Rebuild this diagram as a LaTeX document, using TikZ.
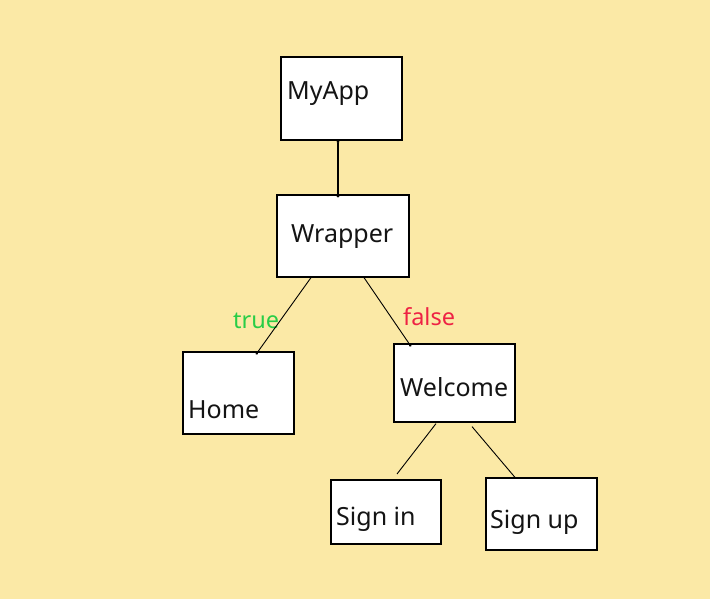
\documentclass[tikz,border=0pt]{standalone}
\usepackage{fontspec}
\setmainfont{Noto Sans}
\usetikzlibrary{calc,arrows.meta}
\definecolor{bg}{RGB}{251,233,166}
\definecolor{truecol}{RGB}{40,205,70}
\definecolor{falsecol}{RGB}{238,34,68}
\tikzset{
  box/.style={draw=black, fill=white, line width=1.2pt, rectangle, inner sep=0pt},
  lbl/.style={inner sep=0pt, anchor=base west, font=\fontsize{25}{29}\selectfont, text=black!92},
  cond/.style={inner sep=0pt, anchor=base west, font=\fontsize{23.5}{27}\selectfont},
  conn/.style={draw=black, line width=0.9pt, -{Circle[length=2.6pt]}}
}
\begin{document}
\begin{tikzpicture}[x=1pt,y=-1pt]
\fill[bg] (0,0) rectangle (710,599);
\useasboundingbox (0,0) rectangle (710,599);
% boxes
\node[box, minimum width=121pt, minimum height=83pt] (myapp) at (341.5,98.5) {};
\node[box, minimum width=132pt, minimum height=82pt] (wrapper) at (343,236) {};
\node[box, minimum width=111pt, minimum height=82pt] (home) at (238.5,393) {};
\node[box, minimum width=121pt, minimum height=78pt] (welcome) at (454.5,383) {};
\node[box, minimum width=110pt, minimum height=64pt] (signin) at (386,512) {};
\node[box, minimum width=111pt, minimum height=72pt] (signup) at (541.5,514) {};
% texts
\node[lbl] (tmyapp) at (287,100) {MyApp};
\node[lbl] (twrapper) at (291,242) {Wrapper};
\node[lbl] (thome) at (188,418) {Home};
\node[lbl] (twelcome) at (400,396) {Welcome};
\node[lbl] (tsignin) at (336,525) {Sign in};
\node[lbl] (tsignup) at (490,528) {Sign up};
\node[cond, text=truecol] (ttrue) at (233,328) {true};
\node[cond, text=falsecol] (tfalse) at (403,325) {false};
% connectors
\coordinate (siend) at (397,474);
\draw[conn, line width=1.2pt, {Circle[length=2.6pt]}-{Circle[length=3.2pt]}] ($(myapp.south)+(-3.5,0)$) -- ($(wrapper.north)+(-5,3)$);
\draw[conn] ($(wrapper.south)+(-32,0)$) -- ($(home.north)+(17.5,3)$);
\draw[conn] ($(wrapper.south)+(21,0)$) -- ($(welcome.north)+(-43.5,3)$);
\draw[conn, -] ($(welcome.south)+(-18.5,1)$) -- (siend);
\draw[conn, -] ($(welcome.south)+(17.5,4)$) -- ($(signup.north)+(-26.5,0)$);
\end{tikzpicture}
\end{document}
